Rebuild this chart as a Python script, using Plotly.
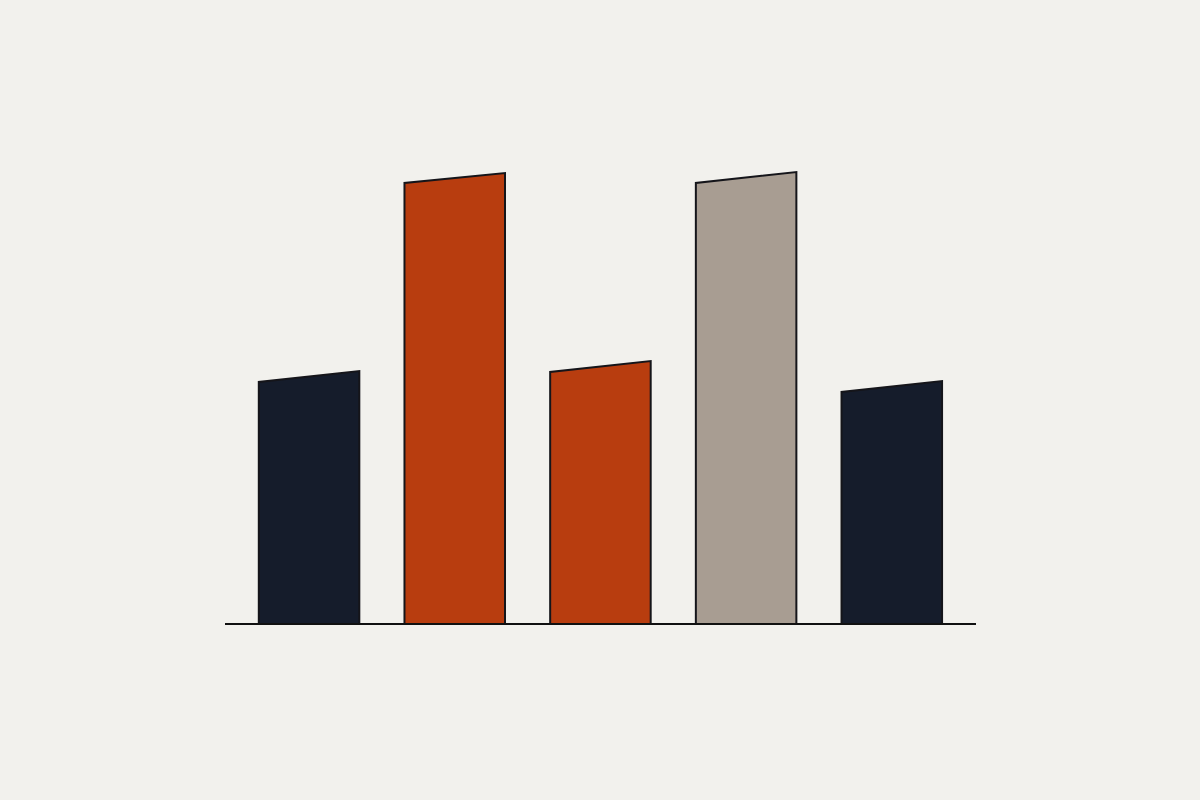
import plotly.graph_objects as go

# Data
categories = ["A", "B", "C", "D", "E"]
left_top = [242, 441, 252, 441, 232]
right_top = [253, 451, 263, 452, 243]
colors = ["#151c2b", "#b83d0f", "#b83d0f", "#a89d92", "#151c2b"]

bar_width = 0.69
positions = list(range(len(categories)))

fig = go.Figure()
for i, cat in enumerate(categories):
    x0 = positions[i] - bar_width / 2
    x1 = positions[i] + bar_width / 2
    fig.add_trace(go.Scatter(
        x=[x0, x0, x1, x1, x0],
        y=[0, left_top[i], right_top[i], 0, 0],
        mode="lines",
        fill="toself",
        fillcolor=colors[i],
        line=dict(color="#15151a", width=2),
        name=cat,
        hoverinfo="skip",
        showlegend=False,
    ))

bg = "#f2f1ed"
fig.update_layout(
    width=1200, height=800,
    paper_bgcolor=bg, plot_bgcolor=bg,
    margin=dict(l=225, r=224, t=124, b=171),
    xaxis=dict(range=[-0.577, 4.578], showgrid=False, zeroline=False,
               showticklabels=False, ticks="", showline=False, fixedrange=True),
    yaxis=dict(range=[-5, 500], showgrid=False, zeroline=False,
               showticklabels=False, ticks="", showline=False, fixedrange=True),
    shapes=[dict(type="line", xref="paper", yref="y", x0=0, x1=1, y0=0, y1=0,
                 line=dict(color="#111111", width=2.2), layer="above")],
)

post = ("document.body.style.margin='0';document.body.style.padding='0';"
        "document.body.style.background='%s';document.body.style.overflow='hidden';" % bg)
fig.write_html("out.html", post_script=post, config={"displayModeBar": False})
